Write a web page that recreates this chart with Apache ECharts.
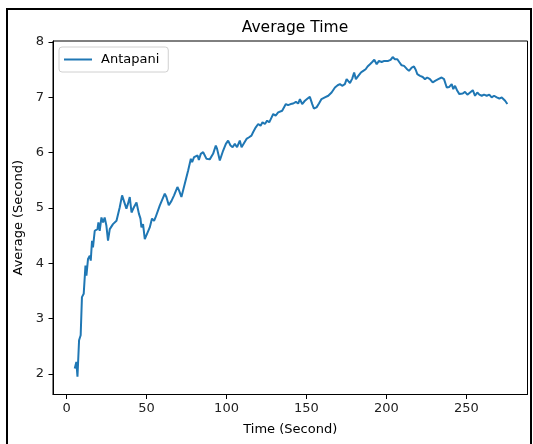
<!DOCTYPE html>
<html>
<head>
<meta charset="utf-8">
<script src="https://cdn.jsdelivr.net/npm/echarts@6/dist/echarts.min.js"></script>
<style>
  html, body { margin: 0; padding: 0; background: #fff; }
  #chart { width: 533px; height: 444px; }
</style>
</head>
<body>
<div id="chart"></div>
<script>
// values
var seriesName = 'Antapani';
var timeSec = [
  5.1, 6.1, 6.8, 7.8, 8.8, 9.6, 10.7, 11.8, 12.4, 13.4, 14.5, 15.1, 15.9, 16.5, 17.6,
  18.7, 19.3, 19.9, 20.7, 21.8, 22.8, 23.8, 24.9, 25.9, 27.0, 28.0, 29.0, 30.1, 31.2,
  32.2, 33.2, 34.7, 35.9, 37.4, 38.4, 39.5, 40.6, 42.0, 43.7, 44.5, 45.2, 46.2, 46.8,
  47.8, 48.9, 49.9, 52.0, 53.4, 54.7, 55.6, 58.3, 61.4, 62.4, 63.9, 65.6, 67.2, 69.3,
  70.3, 71.8, 73.9, 76.0, 77.7, 78.5, 79.7, 80.8, 81.9, 82.7, 83.9, 85.4, 87.5, 89.5,
  91.6, 93.3, 94.1, 95.8, 97.9, 99.6, 101.0, 102.5, 103.8, 105.2, 106.6, 108.3, 109.4,
  110.4, 112.5, 114.1, 115.6, 116.6, 118.3, 119.8, 121.3, 122.5, 124.0, 125.4, 126.7,
  128.2, 129.2, 130.7, 132.3, 133.4, 134.8, 135.9, 137.1, 138.5, 140.1, 141.7, 143.4,
  144.8, 145.9, 147.3, 149.0, 150.7, 152.1, 153.6, 154.6, 156.3, 157.8, 159.4, 161.5,
  163.6, 165.7, 167.8, 169.5, 170.9, 172.3, 174.0, 175.1, 176.1, 177.2, 178.6, 179.8,
  180.9, 182.4, 184.0, 185.5, 187.0, 188.2, 189.7, 191.1, 192.4, 193.9, 195.3, 197.0,
  198.6, 199.7, 201.1, 202.6, 203.9, 205.3, 206.8, 208.0, 209.5, 211.0, 212.6, 214.1,
  215.8, 217.2, 218.3, 219.3, 221.0, 222.7, 224.1, 225.5, 227.2, 228.9, 230.4, 232.4,
  234.5, 236.0, 237.7, 239.3, 240.8, 241.8, 242.9, 244.3, 245.6, 247.7, 249.1, 250.6,
  252.3, 254.0, 255.4, 256.8, 258.1, 259.6, 261.0, 262.7, 264.3, 265.8, 267.3, 269.0,
  270.6, 272.1, 274.2, 275.6
];
var avgSec = [
  2.10, 2.22, 1.95, 2.61, 2.70, 3.39, 3.45, 3.96, 3.78, 4.08, 4.14, 4.05, 4.41, 4.29, 4.59,
  4.56, 4.62, 4.74, 4.59, 4.83, 4.74, 4.83, 4.68, 4.41, 4.62, 4.59, 4.71, 4.68, 4.77,
  4.74, 5.01, 5.23, 5.20, 4.99, 5.08, 5.20, 4.92, 5.01, 5.10, 5.13, 4.90, 4.81, 4.65,
  4.71, 4.44, 4.47, 4.65, 4.81, 4.77, 4.83, 5.05, 5.26, 5.20, 5.05, 5.13, 5.23, 5.38,
  5.32, 5.20, 5.44, 5.68, 5.89, 5.83, 5.92, 5.89, 5.95, 5.87, 5.98, 6.01, 5.89, 5.88,
  5.98, 6.13, 6.07, 5.86, 6.04, 6.16, 6.22, 6.13, 6.10, 6.16, 6.10, 6.22, 6.10,
  6.13, 6.25, 6.28, 6.31, 6.37, 6.46, 6.52, 6.49, 6.55, 6.52, 6.58, 6.55,
  6.64, 6.70, 6.67, 6.73, 6.70, 6.76, 6.73, 6.88, 6.86, 6.88, 6.89, 6.92,
  6.89, 6.97, 6.88, 6.94, 6.98, 7.01, 6.88, 6.80, 6.82, 6.89, 6.97, 7.00,
  7.03, 7.09, 7.18, 7.22, 7.24, 7.21, 7.24, 7.33, 7.36, 7.26, 7.34, 7.45,
  7.33, 7.39, 7.45, 7.48, 7.51, 7.56, 7.60, 7.64, 7.68, 7.60, 7.66, 7.64,
  7.66, 7.64, 7.66, 7.68, 7.73, 7.69, 7.69, 7.64, 7.58, 7.57, 7.52, 7.48,
  7.54, 7.56, 7.50, 7.42, 7.39, 7.37, 7.33, 7.36, 7.33, 7.27, 7.30, 7.33,
  7.36, 7.33, 7.18, 7.19, 7.24, 7.15, 7.21, 7.12, 7.06, 7.07, 7.10, 7.05,
  7.09, 7.13, 7.03, 7.09, 7.05, 7.03, 7.05, 7.03, 7.05, 7.00, 7.03, 7.00,
  6.98, 7.00, 6.94, 6.88
];
var xTicks = [0, 50, 100, 150, 200, 250];
var yTicks = [2, 3, 4, 5, 6, 7, 8];

var font = 'DejaVu Sans';
var points = timeSec.map(function (t, i) { return [t, avgSec[i]]; });

var myChart = echarts.init(document.getElementById('chart'));
var option = {
    animation: false,
    backgroundColor: '#fff',
    title: {
        text: 'Average Time',
        left: 290,
        textAlign: 'center',
        top: 15,
        textStyle: { fontFamily: font, fontSize: 15.5, fontWeight: 'normal', color: '#000' }
    },
    legend: {
        left: 59,
        top: 47,
        orient: 'vertical',
        data: [{ name: seriesName, icon: 'rect' }],
        itemWidth: 28,
        itemHeight: 2,
        padding: [5, 9, 5, 5],
        backgroundColor: 'rgba(255,255,255,0.8)',
        borderColor: '#d0d0d0',
        borderWidth: 1,
        borderRadius: 3,
        textStyle: { fontFamily: font, fontSize: 13, color: '#000', padding: [0, 0, 0, 4], lineHeight: 15 }
    },
    grid: {
        left: 53,
        right: 5.5,
        top: 41,
        bottom: 49.5,
        show: true,
        borderColor: '#000',
        borderWidth: 1,
        backgroundColor: '#fff'
    },
    xAxis: {
        type: 'value',
        min: -8.5,
        max: 288.2,
        name: 'Time (Second)',
        nameLocation: 'middle',
        nameGap: 29,
        nameTextStyle: { fontFamily: font, fontSize: 13, color: '#000' },
        axisLine: { show: true, onZero: false, lineStyle: { color: '#000', width: 1 } },
        axisTick: { show: true, length: 4.5, lineStyle: { color: '#000' }, customValues: xTicks },
        axisLabel: { fontFamily: font, fontSize: 13, color: '#222', margin: 8, customValues: xTicks },
        splitLine: { show: false }
    },
    yAxis: {
        type: 'value',
        min: 1.63,
        max: 8.02,
        name: 'Average (Second)',
        nameLocation: 'middle',
        nameGap: 19,
        nameTextStyle: { fontFamily: font, fontSize: 13, color: '#000' },
        axisLine: { show: true, onZero: false, lineStyle: { color: '#000', width: 1 } },
        axisTick: { show: true, length: 4.5, lineStyle: { color: '#000' }, customValues: yTicks },
        axisLabel: { fontFamily: font, fontSize: 13, color: '#222', margin: 9, customValues: yTicks },
        splitLine: { show: false }
    },
    graphic: [{
        type: 'rect',
        silent: true,
        z: 100,
        shape: { x: 7, y: 9, width: 524, height: 460 },
        style: { fill: 'none', stroke: '#000', lineWidth: 2 }
    }],
    series: [{
        name: seriesName,
        type: 'line',
        data: points,
        symbol: 'none',
        lineStyle: { color: '#1f77b4', width: 2 },
        itemStyle: { color: '#1f77b4' }
    }]
};
myChart.setOption(option);
</script>
</body>
</html>
